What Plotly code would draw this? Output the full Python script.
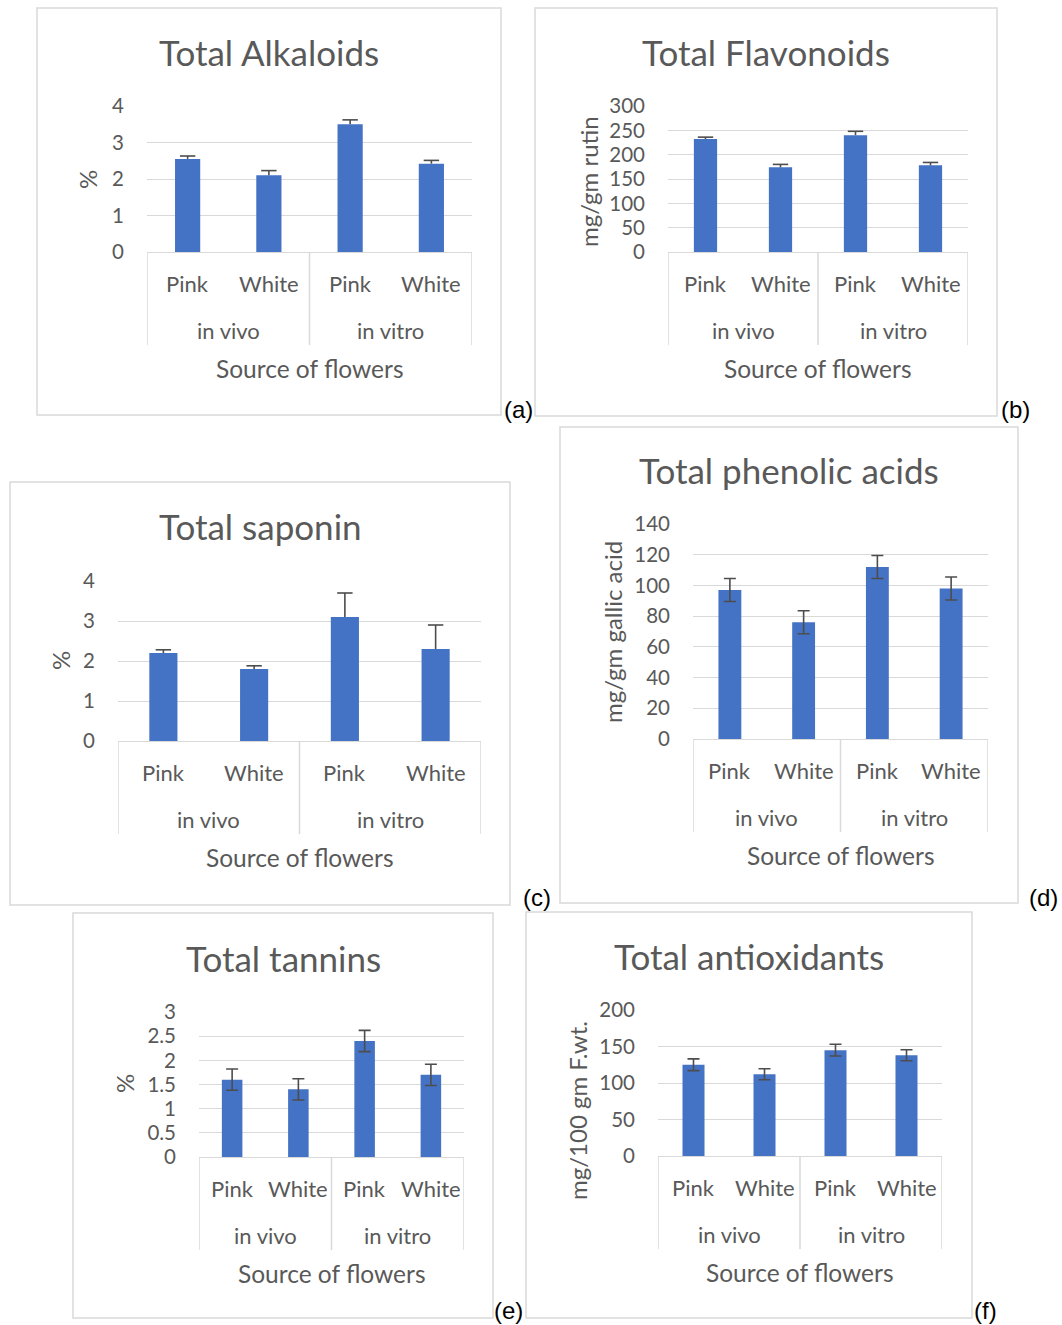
import plotly.graph_objects as go

W, H = 1062, 1325

# ---------------- data ----------------
sources = ["in vivo", "in vivo", "in vitro", "in vitro"]
colours = ["Pink", "White", "Pink", "White"]
x_title = "Source of flowers"

titles = ["Total Alkaloids", "Total Flavonoids", "Total saponin",
          "Total phenolic acids", "Total tannins", "Total antioxidants"]
y_titles = ["%", "mg/gm rutin", "%", "mg/gm gallic acid", "%", "mg/100 gm F.wt."]
panel_tags = ["(a)", "(b)", "(c)", "(d)", "(e)", "(f)"]

alkaloids = [2.55, 2.1, 3.5, 2.42]
alkaloids_err = [0.08, 0.13, 0.12, 0.09]
flavonoids = [232, 174, 240, 178]
flavonoids_err = [4, 6, 8, 6]
saponin = [2.2, 1.8, 3.1, 2.3]
saponin_err = [0.08, 0.08, 0.6, 0.6]
phenolic = [97, 76, 112, 98]
phenolic_err = [7.5, 7.5, 7.5, 7.5]
tannins = [1.6, 1.4, 2.4, 1.7]
tannins_err = [0.22, 0.22, 0.22, 0.22]
antioxidants = [125, 112, 145, 138]
antioxidants_err = [8, 7.5, 8, 7.5]

values = [alkaloids, flavonoids, saponin, phenolic, tannins, antioxidants]
errors = [alkaloids_err, flavonoids_err, saponin_err, phenolic_err, tannins_err, antioxidants_err]
y_max = [4, 300, 4, 140, 3, 200]
y_step = [1, 50, 1, 20, 0.5, 50]
plus_only = [True, True, True, False, False, False]

# ---------------- layout geometry (pixels) ----------------
plot_areas = [(147, 472, 106, 252), (668, 968, 106, 252), (118, 481, 581, 741),
              (693, 988, 524, 739), (199, 464, 1012, 1157), (658, 942, 1010, 1156)]
boxes = [(37, 501, 8, 415), (535, 997, 8, 416), (10, 510, 482, 905),
         (560, 1018, 427, 903), (73, 493, 913, 1318), (526, 972, 912, 1318)]
title_pos = [(269, 52), (766, 52), (260, 526), (789, 470), (283, 958), (749, 956)]
ytitle_pos = [(88, 180), (588, 182), (60, 661), (612, 632), (124, 1084), (577, 1111)]
tag_pos = [(518, 410), (1015, 410), (537, 897), (1043, 897), (508, 1310), (985, 1310)]

BAR = "#4472C4"
TXT = "#595959"
GRID = "#D9D9D9"
ERR = "#4d4d4d"
FONT = "Lato, Calibri, sans-serif"

fig = go.Figure()
layout = {}
annotations = []
shapes = []


def px_x(p):
    return p / W


def px_y(p):
    return 1 - p / H


xs = list(range(len(colours)))

for i in range(6):
    n = i + 1
    xa = "x" if n == 1 else f"x{n}"
    ya = "y" if n == 1 else f"y{n}"
    x0, x1, y0, y1 = plot_areas[i]
    ph = y1 - y0

    fig.add_trace(go.Bar(
        x=xs, y=values[i], xaxis=xa, yaxis=ya,
        marker=dict(color=BAR, line=dict(width=0)),
        showlegend=False,
    ))
    if plus_only[i]:
        fig.add_trace(go.Scatter(
            x=xs, y=values[i], xaxis=xa, yaxis=ya, mode="none",
            error_y=dict(type="data", symmetric=False, array=errors[i],
                         arrayminus=[0] * len(xs), color=ERR, thickness=1.6, width=0),
            showlegend=False,
        ))
        fig.add_trace(go.Scatter(
            x=xs, y=[v + e for v, e in zip(values[i], errors[i])],
            xaxis=xa, yaxis=ya, mode="markers",
            marker=dict(symbol="line-ew", size=11, line=dict(color=ERR, width=1.6)),
            showlegend=False,
        ))
    else:
        fig.add_trace(go.Scatter(
            x=xs, y=values[i], xaxis=xa, yaxis=ya, mode="none",
            error_y=dict(type="data", array=errors[i], color=ERR, thickness=1.6, width=6),
            showlegend=False,
        ))

    layout["xaxis" if n == 1 else f"xaxis{n}"] = dict(
        domain=[px_x(x0), px_x(x1)], anchor=ya, range=[-0.5, len(xs) - 0.5],
        showticklabels=False, showgrid=False, zeroline=False, automargin=False,
        showline=True, linecolor=GRID, linewidth=1.3, ticks="", fixedrange=True,
    )
    layout["yaxis" if n == 1 else f"yaxis{n}"] = dict(
        domain=[px_y(y1), px_y(y0)], anchor=xa, range=[0, y_max[i]], dtick=y_step[i],
        showgrid=True, gridcolor=GRID, gridwidth=1.3, zeroline=False, showline=False,
        ticks="", ticklabelstandoff=22, automargin=False,
        tickfont=dict(family=FONT, size=20.5, color=TXT), fixedrange=True,
    )

    # chart border box
    bx0, bx1, by0, by1 = boxes[i]
    shapes.append(dict(type="rect", xref="paper", yref="paper",
                       x0=px_x(bx0), x1=px_x(bx1), y0=px_y(by1), y1=px_y(by0),
                       line=dict(color=GRID, width=1.5), fillcolor="rgba(0,0,0,0)", layer="below"))

    # category labels (inner)
    for k, c in enumerate(colours):
        annotations.append(dict(x=xs[k], xref=xa, y=0, yref=f"{ya} domain", yshift=-31,
                                text=c, showarrow=False, yanchor="middle", xanchor="center",
                                font=dict(family=FONT, size=22, color=TXT)))
    # group labels (outer) and dividers
    groups = []
    for k, s in enumerate(sources):
        if not groups or groups[-1][0] != s:
            groups.append([s, [xs[k]]])
        else:
            groups[-1][1].append(xs[k])
    bounds = [-0.5]
    for s, members in groups:
        annotations.append(dict(x=sum(members) / len(members), xref=xa, y=0, yref=f"{ya} domain",
                                yshift=-78, text=s, showarrow=False, yanchor="middle",
                                font=dict(family=FONT, size=22, color=TXT)))
        bounds.append(members[-1] + 0.5)
    for b in bounds:
        shapes.append(dict(type="line", xref=xa, yref=f"{ya} domain",
                           x0=b, x1=b, y0=0, y1=-93 / ph,
                           line=dict(color=GRID, width=1.5)))
    # axis title
    annotations.append(dict(x=0.5, xref=f"{xa} domain", y=0, yref=f"{ya} domain", yshift=-116,
                            text=x_title, showarrow=False, yanchor="middle",
                            font=dict(family=FONT, size=24.5, color=TXT)))
    # y title
    tx, ty = ytitle_pos[i]
    annotations.append(dict(x=px_x(tx), y=px_y(ty), xref="paper", yref="paper",
                            text=y_titles[i], textangle=-90, showarrow=False,
                            xanchor="center", yanchor="middle",
                            font=dict(family=FONT, size=24, color=TXT)))
    # chart title
    tx, ty = title_pos[i]
    annotations.append(dict(x=px_x(tx), y=px_y(ty), xref="paper", yref="paper",
                            text=titles[i], showarrow=False, xanchor="center", yanchor="middle",
                            font=dict(family=FONT, size=35, color=TXT)))
    # panel tag
    tx, ty = tag_pos[i]
    annotations.append(dict(x=px_x(tx), y=px_y(ty), xref="paper", yref="paper",
                            text=panel_tags[i], showarrow=False, xanchor="center", yanchor="middle",
                            font=dict(family="Liberation Sans, Arial, sans-serif", size=24, color="#000000")))

fig.update_layout(
    width=W, height=H, margin=dict(l=0, r=0, t=0, b=0, pad=0, autoexpand=False),
    paper_bgcolor="white", plot_bgcolor="white",
    bargap=0.69, annotations=annotations, shapes=shapes, **layout,
)

fig.write_html("out.html", config={"displayModeBar": False},
               post_script="document.body.style.margin='0px';")
